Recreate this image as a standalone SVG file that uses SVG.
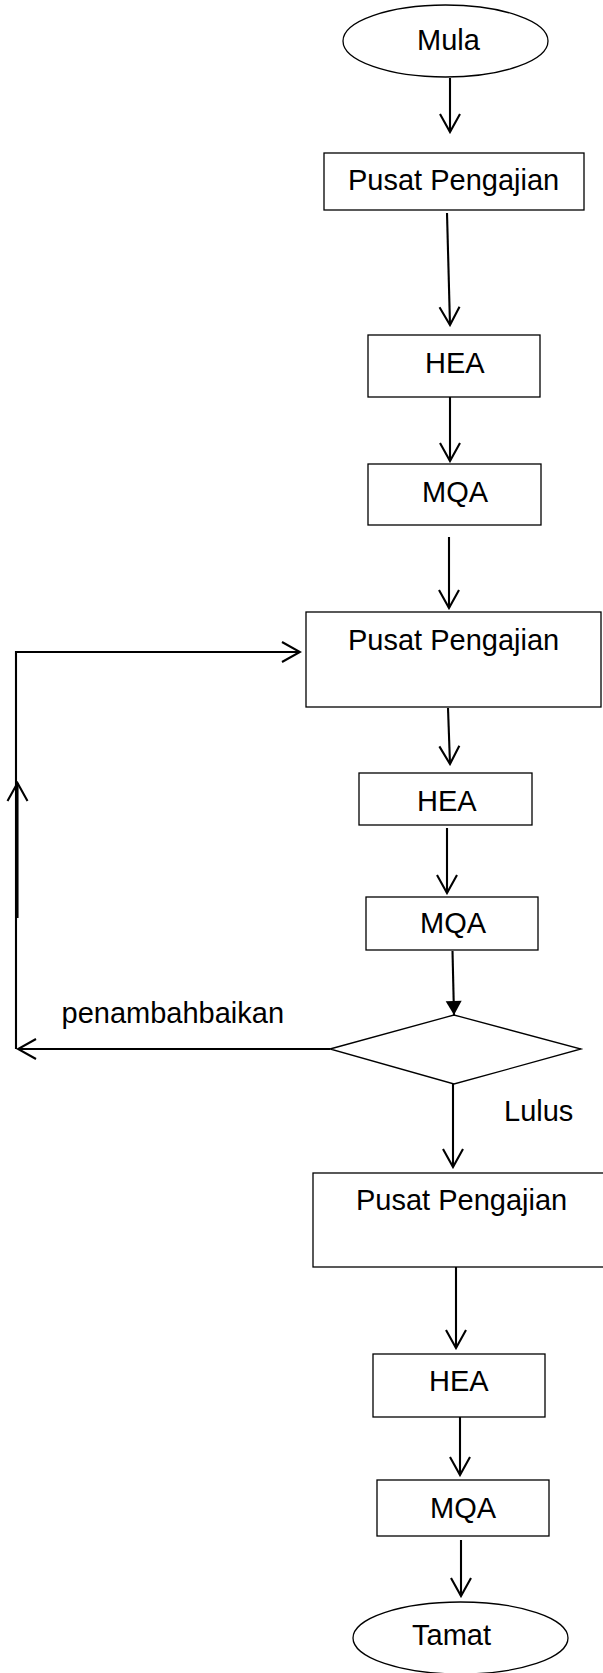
<svg xmlns="http://www.w3.org/2000/svg" width="603" height="1673" viewBox="0 0 603 1673">
<style>
.n{fill:#fff;stroke:#000;stroke-width:1.3}
.t{font-family:"Liberation Sans",Arial,sans-serif;font-size:29px;fill:#000}
.c{fill:none;stroke:#000;stroke-width:2.1}
</style>
<defs>
<marker id="open" viewBox="-21 -12 23 24" markerWidth="23" markerHeight="24" refX="0" refY="0" markerUnits="userSpaceOnUse" orient="auto">
<path d="M-18,-10 L0,0 L-18,10" fill="none" stroke="#000" stroke-width="2.1"/>
</marker>
<marker id="solid" viewBox="-15 -10 16 20" markerWidth="16" markerHeight="20" refX="0" refY="0" markerUnits="userSpaceOnUse" orient="auto">
<path d="M-14,-8 L0,0 L-14,8 Z" fill="#000"/>
</marker>
</defs>
<rect width="603" height="1673" fill="#fff"/>
<g id="connectors">
<line class="c" x1="450" y1="78" x2="450" y2="132" marker-end="url(#open)"/>
<line class="c" x1="447" y1="213" x2="450" y2="325" marker-end="url(#open)"/>
<line class="c" x1="450" y1="397" x2="450" y2="461" marker-end="url(#open)"/>
<line class="c" x1="449" y1="537" x2="449" y2="608" marker-end="url(#open)"/>
<line class="c" x1="448" y1="708" x2="450" y2="764" marker-end="url(#open)"/>
<line class="c" x1="447" y1="828" x2="447" y2="893" marker-end="url(#open)"/>
<line class="c" x1="452.5" y1="951" x2="454" y2="1015" marker-end="url(#solid)"/>
<line class="c" x1="330" y1="1049" x2="18" y2="1049" marker-end="url(#open)"/>
<path class="c" d="M16,1049 V652 H300" marker-end="url(#open)"/>
<line class="c" x1="17.5" y1="918" x2="17.5" y2="783" marker-end="url(#open)"/>
<line class="c" x1="453" y1="1084" x2="453" y2="1167" marker-end="url(#open)"/>
<line class="c" x1="456" y1="1267" x2="456" y2="1348" marker-end="url(#open)"/>
<line class="c" x1="460" y1="1416" x2="460" y2="1475" marker-end="url(#open)"/>
<line class="c" x1="461" y1="1540" x2="461" y2="1596" marker-end="url(#open)"/>
<text class="t" x="61.5" y="1023">penambahbaikan</text>
<text class="t" x="504" y="1121">Lulus</text>
</g>
<g id="mula"><ellipse class="n" cx="445.5" cy="41" rx="102.5" ry="36"/><text class="t" x="417" y="50">Mula</text></g>
<g id="pusat1"><rect class="n" x="324" y="153" width="260" height="57"/><text class="t" x="348" y="190">Pusat Pengajian</text></g>
<g id="hea1"><rect class="n" x="368" y="335" width="172" height="62"/><text class="t" x="425" y="373">HEA</text></g>
<g id="mqa1"><rect class="n" x="368" y="464" width="173" height="61"/><text class="t" x="422" y="502">MQA</text></g>
<g id="pusat2"><rect class="n" x="306" y="612" width="295" height="95"/><text class="t" x="348" y="650">Pusat Pengajian</text></g>
<g id="hea2"><rect class="n" x="359" y="773" width="173" height="52"/><text class="t" x="417" y="811">HEA</text></g>
<g id="mqa2"><rect class="n" x="366" y="897" width="172" height="53"/><text class="t" x="420" y="933">MQA</text></g>
<g id="decision"><polygon class="n" points="330,1049 454,1015 581,1049 454,1084"/></g>
<g id="pusat3"><rect class="n" x="313" y="1173" width="300" height="94"/><text class="t" x="356" y="1210">Pusat Pengajian</text></g>
<g id="hea3"><rect class="n" x="373" y="1354" width="172" height="63"/><text class="t" x="429" y="1391">HEA</text></g>
<g id="mqa3"><rect class="n" x="377" y="1480" width="172" height="56"/><text class="t" x="430" y="1518">MQA</text></g>
<g id="tamat"><ellipse class="n" cx="460.5" cy="1638" rx="107.5" ry="36"/><text class="t" x="412" y="1645">Tamat</text></g>
</svg>
